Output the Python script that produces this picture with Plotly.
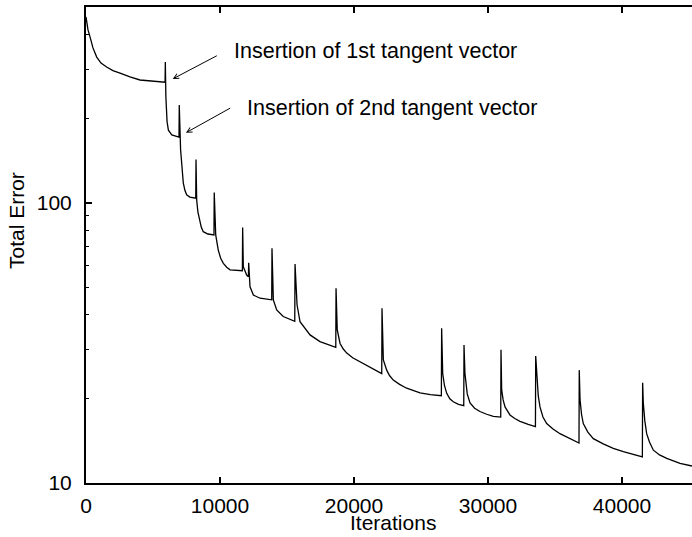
import plotly.graph_objects as go

# Iterations and total error (spikes at tangent-vector insertions)
iterations = [
    0, 75, 150, 300, 520, 800, 1120, 1540, 2010, 2540, 3280, 4030, 5000, 5900,
    5920, 5960, 6050, 6150, 6400, 6940,
    6960, 7000, 7060, 7140, 7200, 7260, 7380, 7510, 7750, 8190,
    8210, 8260, 8350, 8460, 8600, 8750, 9100, 9550,
    9570, 9680, 9870, 10050, 10250, 10500, 10750, 11670,
    11690, 11740, 11990, 12120, 12140, 12240, 12490, 12990, 13860,
    13880, 13980, 14230, 14720, 15580,
    15600, 15750, 15970, 16720, 17460, 18640,
    18660, 18750, 18850, 18960, 19200, 19460, 19900, 20450, 21190, 21600, 22070,
    22090, 22190, 22440, 22650, 22930, 23400, 23930, 24930, 25700, 26520,
    26540, 26620, 26750, 26920, 27150, 27410, 27800, 28190,
    28210, 28280, 28450, 28660, 29000, 29400, 29900, 30400, 30950,
    30970, 31020, 31130, 31270, 31640, 32000, 32390, 33000, 33540,
    33560, 33630, 33750, 33880, 34100, 34380, 34850, 35370, 36000, 36790,
    36810, 36870, 36980, 37110, 37450, 37860, 38600, 39350, 40100, 40840, 41520,
    41540, 41590, 41700, 41840, 42050, 42340, 42800, 43340, 44330, 45220,
]
total_error = [
    462, 436, 415, 392, 358, 332, 316, 306, 297, 291, 282, 275, 272, 270,
    319, 240, 195, 182, 175, 172,
    224, 170, 155, 139, 127, 118, 111, 107, 105, 104,
    143, 102.5, 93, 86.9, 82, 79.0, 77.5, 76.9,
    109, 76.9, 67.9, 63.5, 60.9, 59.0, 57.7, 57.3,
    81.7, 59.2, 55.3, 54.5, 61.2, 50.2, 46.9, 45.7, 45.1,
    68.9, 45.1, 41.5, 39.3, 37.8,
    60.5, 43.3, 37.7, 33.8, 32.0, 30.5,
    49.6, 35.2, 33.0, 31.5, 30.1, 29.1, 28.0, 27.1, 26.0, 25.3, 24.6,
    42.1, 27.5, 25.3, 24.2, 23.3, 22.5, 21.8, 21.0, 20.7, 20.5,
    35.7, 24.6, 22.3, 20.9, 20.0, 19.5, 19.1, 18.9,
    31.1, 24.6, 20.8, 19.3, 18.5, 18.0, 17.6, 17.3, 17.2,
    29.9, 21.5, 19.8, 18.7, 17.5, 17.0, 16.6, 16.2, 15.9,
    28.4, 24.0, 20.5, 18.7, 17.2, 16.3, 15.6, 15.0, 14.5, 13.9,
    25.3, 19.8, 17.6, 16.3, 15.2, 14.4, 13.8, 13.3, 12.95, 12.7, 12.4,
    22.8, 19.3, 16.7, 15.0, 14.0, 13.1, 12.6, 12.25, 11.75, 11.5,
]

x_tickvals = [0, 10000, 20000, 30000, 40000]
y_tickvals = [10, 100]
y_minor = [20, 30, 40, 50, 60, 70, 80, 90, 200, 300, 400]

FONT = "Liberation Sans, Arial, Helvetica, sans-serif"
W, H = 692, 537
L, R, T, B = 86, 0, 7, 54
pw, ph = W - L - R, H - T - B

def px_to_paper(px, py):
    return (px - L) / pw, (H - B - py) / ph

fig = go.Figure()
fig.add_trace(go.Scatter(x=iterations, y=total_error, mode="lines",
                         line=dict(color="black", width=1.3), showlegend=False,
                         hoverinfo="skip"))

fig.update_layout(
    width=W, height=H,
    margin=dict(l=L, r=R, t=T, b=B, pad=0, autoexpand=False),
    paper_bgcolor="white", plot_bgcolor="white",
    font=dict(family=FONT, size=21, color="black"),
    showlegend=False,
)
fig.update_xaxes(
    automargin=False,
    range=[0, pw / 0.0134], tickvals=x_tickvals, ticktext=[str(v) for v in x_tickvals],
    tickfont=dict(size=21),
    ticks="inside", ticklen=6, tickwidth=1.5, tickcolor="black",
    showline=True, linecolor="black", linewidth=2, mirror="ticks",
    showgrid=False, zeroline=False, ticklabelstandoff=3,
)
fig.update_yaxes(
    automargin=False,
    type="log", range=[1, 2.7], tickvals=y_tickvals, ticktext=["10", "100"],
    tickfont=dict(size=21),
    ticks="inside", ticklen=6, tickwidth=1.5, tickcolor="black",
    minor=dict(tickvals=y_minor, ticks="inside", ticklen=3, tickcolor="black", tickwidth=1, showgrid=False),
    showline=True, linecolor="black", linewidth=2, mirror=False,
    showgrid=False, zeroline=False, ticklabelstandoff=8,
)

ann = []
x, y = px_to_paper(17, 221)
ann.append(dict(x=x, y=y, xref="paper", yref="paper", text="Total Error", textangle=-90,
                showarrow=False, xanchor="center", yanchor="middle", font=dict(size=21)))
x, y = px_to_paper(393, 522)
ann.append(dict(x=x, y=y, xref="paper", yref="paper", text="Iterations",
                showarrow=False, xanchor="center", yanchor="middle", font=dict(size=21)))
x, y = px_to_paper(232, 51)
ann.append(dict(x=x, y=y, xref="paper", yref="paper", text="Insertion of 1st tangent vector",
                showarrow=False, xanchor="left", yanchor="middle", font=dict(size=21.5)))
x, y = px_to_paper(245, 108)
ann.append(dict(x=x, y=y, xref="paper", yref="paper", text="Insertion of 2nd tangent vector",
                showarrow=False, xanchor="left", yanchor="middle", font=dict(size=21.5)))
ann.append(dict(x=6470, y=2.443, xref="x", yref="y", text="", showarrow=True,
                ax=45.6, ay=-24, arrowhead=5, arrowsize=1, arrowwidth=1, arrowcolor="black",
                standoff=0, startstandoff=0))
ann.append(dict(x=7460, y=2.251, xref="x", yref="y", text="", showarrow=True,
                ax=45.7, ay=-25.4, arrowhead=5, arrowsize=1, arrowwidth=1, arrowcolor="black",
                standoff=0, startstandoff=0))
fig.update_layout(annotations=ann)

fig.write_html("out.html", config={"displayModeBar": False},
               post_script="document.body.style.margin='0';document.body.style.padding='0';")
